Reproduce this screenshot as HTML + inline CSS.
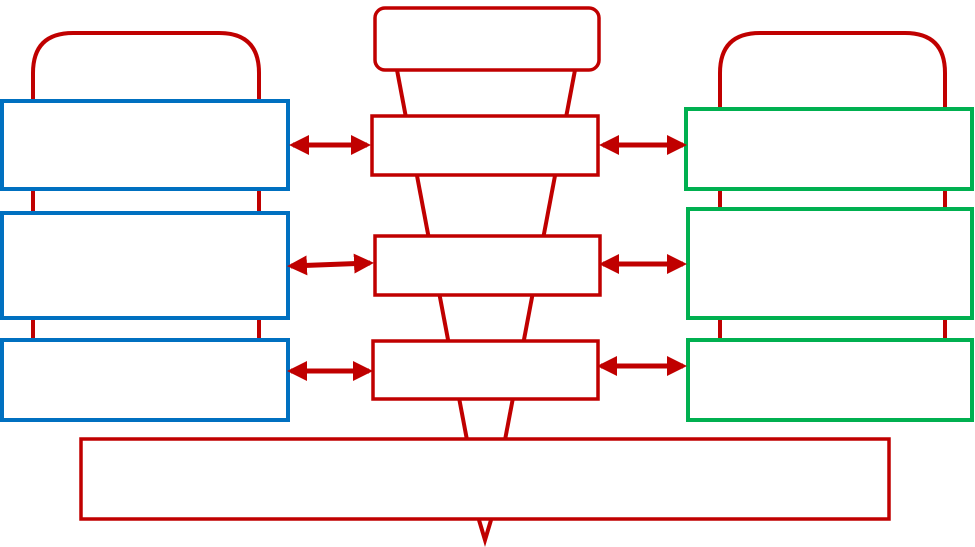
<!DOCTYPE html>
<html><head><meta charset="utf-8"><style>
html,body{margin:0;padding:0;background:#fff;width:975px;height:547px;overflow:hidden}
</style></head><body>
<svg width="975" height="547" viewBox="0 0 975 547" xmlns="http://www.w3.org/2000/svg">
<defs>
<marker id="ah" markerWidth="4" markerHeight="4" refX="3.2" refY="2" orient="auto-start-reverse" markerUnits="strokeWidth">
<path d="M0,0 L4,2 L0,4 z" fill="#c00000"/>
</marker>
</defs>
<g fill="none" stroke="#c00000" stroke-width="4">
<path d="M33,420 V73 Q33,33 73,33 H219 Q259,33 259,73 V420"/>
<path d="M720,420 V73 Q720,33 760,33 H905 Q945,33 945,73 V420"/>
<line x1="397" y1="70" x2="467" y2="440"/>
<line x1="575" y1="70" x2="505" y2="440"/>
<path d="M479,520 L485,540 L491,520"/>
</g>
<g fill="#fff" stroke="#0070c0" stroke-width="4">
<rect x="2" y="101" width="286" height="88"/>
<rect x="2" y="213" width="286" height="105"/>
<rect x="2" y="340" width="286" height="80"/>
</g>
<g fill="#fff" stroke="#00b050" stroke-width="4">
<rect x="686" y="109" width="286" height="80"/>
<rect x="688" y="209" width="284" height="109"/>
<rect x="688" y="340" width="284" height="80"/>
</g>
<g fill="#fff" stroke="#c00000" stroke-width="3.5">
<rect x="375" y="8" width="224" height="62" rx="10"/>
<rect x="372" y="116" width="226" height="59"/>
<rect x="375" y="236" width="225" height="59"/>
<rect x="373" y="341" width="225" height="58"/>
<rect x="81" y="439" width="808" height="80"/>
</g>
<g stroke="#c00000" stroke-width="5" marker-start="url(#ah)" marker-end="url(#ah)">
<line x1="293" y1="145" x2="367" y2="145"/>
<line x1="603" y1="145" x2="683" y2="145"/>
<line x1="291" y1="266" x2="370" y2="263"/>
<line x1="603" y1="264" x2="683" y2="264"/>
<line x1="291" y1="371" x2="369" y2="371"/>
<line x1="601" y1="366" x2="683" y2="366"/>
</g>
</svg>
</body></html>
